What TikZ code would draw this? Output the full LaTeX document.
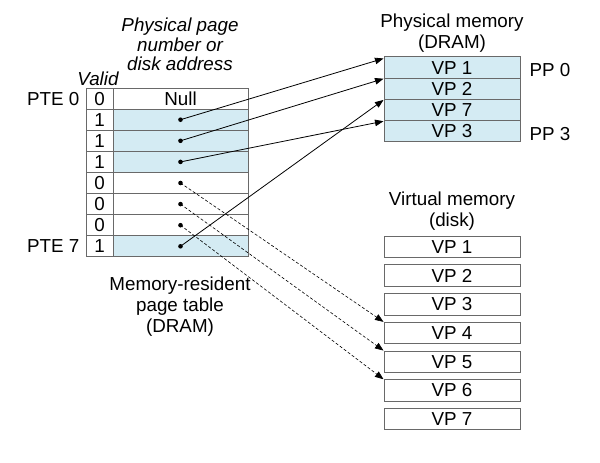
\documentclass[tikz,border=0pt]{standalone}
\usepackage{fontspec}
\setmainfont{Liberation Sans}
\usetikzlibrary{arrows.meta}
\definecolor{ptblue}{RGB}{212,235,243}
\definecolor{ptgray}{RGB}{105,105,105}

\begin{document}
\begin{tikzpicture}[x=1pt, y=-1pt,
  every node/.style={font=\fontsize{18.8}{21}\selectfont, inner sep=0pt},
  heading/.style={align=center, font=\fontsize{18.8}{19.5}\selectfont\itshape},
  cell/.style={draw=ptgray, line width=1pt, minimum height=21.1pt, fill=white},
  addr0/.style={fill=white},
  addr1/.style={fill=ptblue},
  memcell/.style={draw=ptgray, line width=1pt, minimum width=136pt, minimum height=21.25pt, fill=ptblue},
  diskcell/.style={draw=ptgray, line width=1pt, minimum width=136pt, minimum height=21.5pt},
  ptr/.style={-{Triangle[length=8.5pt, width=6.5pt]}, line width=0.8pt},
  swap/.style={ptr, dash pattern=on 3pt off 2pt, line width=0.6pt}]
\useasboundingbox (0,0) rectangle (600,463);

% Page table
\foreach \i/\v in {0/0,1/1,2/1,3/1,4/0,5/0,6/0,7/1} {
  \node[cell, minimum width=27pt] (valid\i) at (99.5,{98.6+21.1*\i}) {\v};
  \node[cell, addr\v, minimum width=135pt] (addr\i) at (180.5,{98.6+21.1*\i}) {};
}
\node (null) at (addr0) {Null};
\foreach \i in {1,...,7}
  \fill (addr\i) circle (2.3pt);

\node[anchor=east] (pte0) at ([xshift=-6pt]valid0.west) {PTE 0};
\node[anchor=east] (pte7) at ([xshift=-6pt]valid7.west) {PTE 7};
\node[font=\fontsize{18.8}{21}\selectfont\itshape] (valid) at (98,79) {Valid};
\node[heading] (addrtitle) at (180,44.5) {Physical page\\number or\\disk address};
\node[align=center] (pttitle) at (180,307) {Memory-resident\\page table\\(DRAM)};

% Physical memory
\foreach \p/\v in {0/1,1/2,2/7,3/3}
  \node[memcell] (pp\p) at (452,{67.6+21.25*\p}) {VP \v};
\node[align=center] (dram) at (452,33.5) {Physical memory\\(DRAM)};
\node[anchor=west] (pp0label) at ([xshift=9pt, yshift=-2pt]pp0.east) {PP 0};
\node[anchor=west] (pp3label) at ([xshift=9pt, yshift=-3pt]pp3.east) {PP 3};

% Virtual memory
\foreach \i in {1,...,7}
  \node[diskcell] (vp\i) at (452,{247+28.7*(\i-1)}) {VP \i};
\node[align=center] (disk) at (452,211) {Virtual memory\\(disk)};

% Arrows
\draw[ptr] (addr1.center) -- ([yshift=-2pt]pp0.north west);
\draw[ptr] (addr2.center) -- ([yshift=-1pt]pp1.north west);
\draw[ptr] (addr3.center) -- ([yshift=-1pt]pp3.north west);
\draw[ptr] (addr7.center) -- ([yshift=-1pt]pp2.north west);
\draw[swap] (addr4.center) -- (vp4.north west);
\draw[swap] (addr5.center) -- (vp5.north west);
\draw[swap] (addr6.center) -- (vp6.north west);
\end{tikzpicture}
\end{document}
